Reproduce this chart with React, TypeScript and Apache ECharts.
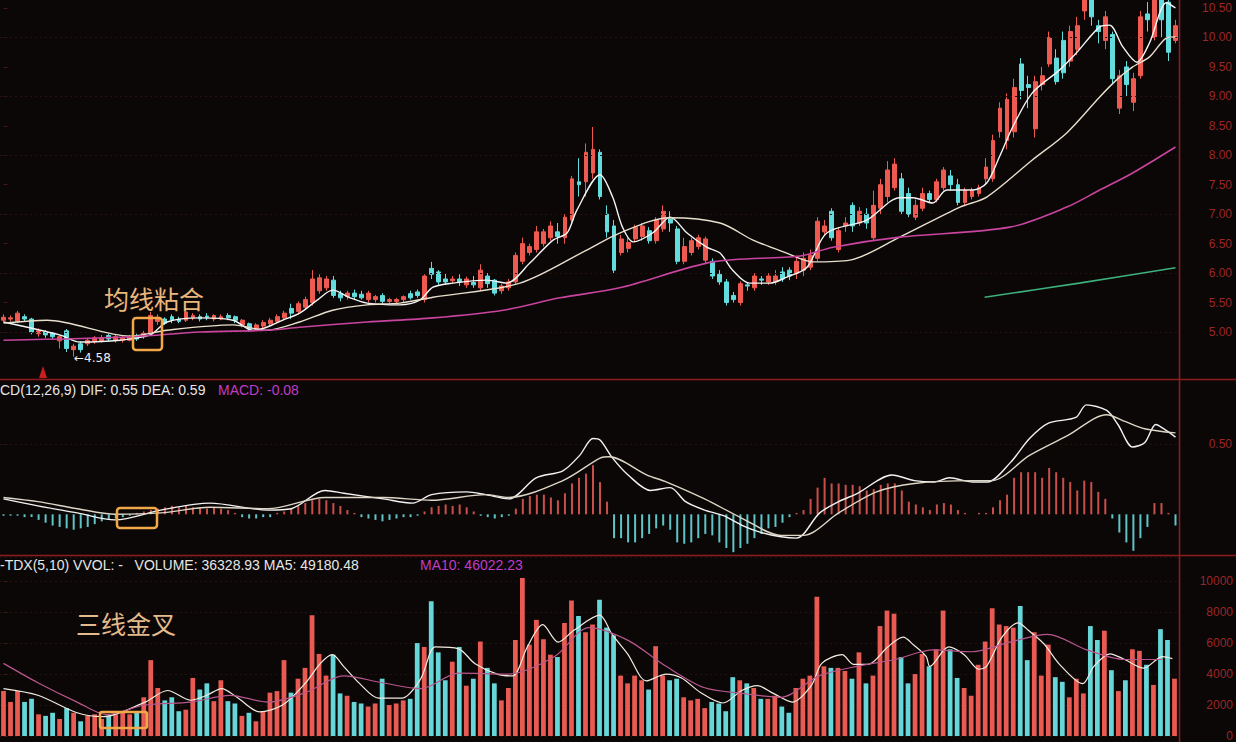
import React, { useEffect, useRef } from "react";
import * as echarts from "echarts";

// [open, close, low, high]
const candles: number[][] = [
  [5.20,5.25,5.17,5.30],[5.22,5.24,5.18,5.28],[5.18,5.32,5.15,5.36],[5.26,5.22,5.18,5.30],[5.22,5.00,4.96,5.24],
  [4.97,5.02,4.92,5.06],[5.00,4.95,4.90,5.03],[4.98,4.92,4.88,5.00],[4.85,4.92,4.72,4.95],[5.02,4.72,4.66,5.05],
  [4.70,4.76,4.58,4.80],[4.80,4.70,4.65,4.84],[4.80,4.86,4.76,4.90],[4.85,4.90,4.80,4.93],[4.84,4.90,4.82,4.95],
  [4.94,4.88,4.84,4.97],[4.86,4.92,4.82,4.95],[4.86,4.90,4.82,4.93],[4.86,4.92,4.84,4.95],[4.93,4.88,4.85,4.97],
  [4.92,4.98,4.88,5.02],[4.98,5.28,4.96,5.34],[5.18,5.25,5.12,5.30],[5.22,5.15,5.12,5.25],[5.26,5.20,5.15,5.30],
  [5.22,5.18,5.15,5.26],[5.20,5.34,5.17,5.40],[5.24,5.28,5.20,5.32],[5.26,5.22,5.18,5.30],[5.27,5.25,5.20,5.32],
  [5.22,5.28,5.18,5.30],[5.22,5.26,5.20,5.30],[5.28,5.24,5.20,5.32],[5.26,5.20,5.15,5.28],[5.12,5.20,5.08,5.22],
  [5.14,5.05,5.00,5.16],[5.05,5.12,5.02,5.15],[5.10,5.16,5.06,5.20],[5.14,5.20,5.10,5.24],[5.18,5.26,5.15,5.30],
  [5.24,5.32,5.20,5.36],[5.40,5.32,5.22,5.48],[5.35,5.48,5.30,5.52],[5.42,5.55,5.38,5.60],[5.50,5.90,5.45,6.05],
  [5.70,5.92,5.65,5.98],[5.75,5.90,5.70,5.95],[5.88,5.62,5.58,5.95],[5.65,5.58,5.52,5.70],[5.60,5.66,5.55,5.70],
  [5.66,5.60,5.56,5.72],[5.64,5.58,5.55,5.70],[5.55,5.66,5.50,5.70],[5.55,5.60,5.50,5.63],[5.62,5.52,5.48,5.66],
  [5.52,5.55,5.48,5.58],[5.52,5.55,5.48,5.58],[5.55,5.60,5.50,5.62],[5.65,5.58,5.55,5.70],[5.68,5.62,5.58,5.72],
  [5.55,5.95,5.50,5.98],[6.08,5.98,5.90,6.19],[6.02,5.85,5.80,6.05],[5.90,5.85,5.80,6.00],[5.87,5.90,5.82,5.95],
  [5.90,5.85,5.78,5.98],[5.80,5.90,5.75,5.94],[5.84,5.80,5.75,5.95],[5.75,6.05,5.70,6.15],[5.95,5.82,5.75,6.00],
  [5.88,5.66,5.62,5.90],[5.70,5.78,5.65,5.82],[5.75,5.85,5.70,5.90],[5.85,6.30,5.80,6.35],[6.20,6.50,6.15,6.60],
  [6.35,6.45,6.30,6.50],[6.40,6.70,6.35,6.80],[6.50,6.70,6.45,6.75],[6.60,6.80,6.55,6.88],[6.70,6.62,6.50,6.85],
  [6.60,6.95,6.50,7.00],[6.90,7.60,6.85,7.65],[7.55,7.50,7.30,7.95],[7.55,8.05,7.30,8.20],[7.70,8.10,7.60,8.48],
  [8.05,7.30,7.25,8.10],[7.00,6.70,6.60,7.15],[6.80,6.05,6.00,6.90],[6.35,6.58,6.30,6.65],[6.42,6.52,6.35,6.60],
  [6.58,6.78,6.52,6.82],[6.62,6.80,6.55,6.85],[6.72,6.55,6.50,6.78],[6.55,6.90,6.50,6.95],[6.75,7.05,6.70,7.15],
  [6.92,6.85,6.70,7.05],[6.75,6.20,6.15,6.80],[6.20,6.45,6.15,6.60],[6.35,6.55,6.30,6.60],[6.45,6.60,6.40,6.65],
  [6.22,6.58,6.15,6.62],[6.20,5.95,5.90,6.25],[5.98,5.85,5.80,6.05],[5.85,5.50,5.45,5.90],[5.62,5.55,5.50,5.68],
  [5.50,5.82,5.45,5.86],[5.80,5.78,5.70,5.85],[5.75,5.95,5.70,6.00],[5.90,5.88,5.80,5.95],[5.85,5.95,5.80,6.00],
  [5.85,5.95,5.80,6.05],[6.02,5.90,5.85,6.10],[6.05,5.95,5.88,6.10],[6.00,6.20,5.90,6.30],[6.05,6.25,5.95,6.35],
  [6.10,6.30,6.05,6.40],[6.25,6.88,6.20,6.95],[6.70,6.80,6.65,6.90],[7.05,6.60,6.55,7.10],[6.40,6.72,6.35,6.78],
  [6.80,6.85,6.70,6.95],[7.15,6.80,6.70,7.20],[6.85,7.05,6.80,7.12],[7.00,6.85,6.75,7.10],[6.60,7.15,6.55,7.40],
  [7.10,7.50,7.00,7.60],[7.30,7.75,7.20,7.90],[7.45,7.85,7.40,7.95],[7.60,7.05,7.00,7.70],[7.35,7.00,6.95,7.45],
  [6.95,7.15,6.90,7.25],[7.10,7.35,7.05,7.45],[7.35,7.25,7.20,7.40],[7.25,7.55,7.20,7.60],[7.45,7.75,7.40,7.80],
  [7.65,7.50,7.40,7.75],[7.50,7.20,7.15,7.60],[7.20,7.40,7.15,7.45],[7.30,7.40,7.25,7.45],[7.35,7.45,7.30,7.50],
  [7.60,7.80,7.50,7.95],[7.60,8.25,7.55,8.35],[8.40,8.80,8.30,8.90],[8.25,8.95,8.10,9.05],[8.40,9.15,8.30,9.30],
  [9.55,9.10,8.95,9.65],[9.20,9.15,8.80,9.35],[8.45,9.25,8.30,9.35],[9.20,9.35,9.10,9.50],[9.55,10.00,9.50,10.10],
  [9.65,9.25,9.20,9.80],[9.95,9.40,9.30,10.10],[9.60,10.10,9.50,10.20],[9.80,10.20,9.70,10.35],[10.45,10.65,10.30,10.80],
  [10.70,10.35,10.20,10.80],[10.20,10.10,9.90,10.30],[9.95,10.35,9.80,10.45],[10.05,9.30,9.20,10.10],[8.80,9.35,8.70,9.45],
  [9.50,9.20,9.00,9.60],[8.90,9.30,8.75,9.40],[9.35,10.35,9.30,10.45],[10.40,10.30,10.10,10.60],[10.00,10.90,9.95,11.00],
  [10.80,10.30,10.00,10.90],[10.60,9.75,9.60,10.70],[9.95,10.20,9.90,10.30],
];

const volumes: number[] = [
  2900,2200,2900,2200,2400,1400,1300,1500,1100,1800,
  1500,950,1300,1400,1100,1300,1400,1500,1400,1600,
  2500,4900,3100,2300,2500,1600,1700,3750,3000,3400,
  2250,3600,2250,2100,1300,1500,950,1600,2800,2900,
  4900,2800,3700,4400,7800,5300,3900,5250,2750,2600,
  2200,2100,1900,2100,3700,2000,2100,2300,2400,6000,
  5750,8700,5400,3600,4800,5750,3250,3700,6100,4400,
  3400,2300,3100,6200,10200,5900,7500,6250,5250,5100,
  7300,8750,7750,6700,7200,8800,7000,6500,3900,3400,
  3900,3600,3000,5800,3900,3600,3700,2500,2300,2400,
  1800,2200,2100,1600,3800,3600,3400,3100,2400,2400,
  2600,1900,1500,3100,3700,3900,9000,4500,4400,4400,
  4200,3700,5400,3400,3900,7100,8100,7900,5100,3400,
  4000,5300,4500,5600,8100,5600,3750,3100,2600,4600,
  6100,8250,7200,7100,7000,8400,4900,6700,3900,5900,
  3800,3500,2500,3700,2750,7100,6200,6800,4250,2900,
  3600,5600,5500,4600,3300,6900,6200,3700,
];

const macdHist: number[] = [
  -0.01,-0.01,-0.01,-0.02,-0.02,
  -0.04,-0.06,-0.08,-0.09,-0.1,-0.11,-0.1,-0.09,
  -0.07,-0.05,-0.04,
  -0.03,-0.02,-0.01,0.01,
  0.02,0.03,0.04,0.05,0.06,0.05,0.06,0.05,0.05,0.04,0.05,0.04,0.03,
  0.01,-0.02,-0.03,-0.03,-0.02,-0.02,0.01,0.02,
  0.04,0.06,0.08,0.1,0.11,0.1,0.08,0.06,
  0.03,0.01,-0.02,-0.03,-0.04,-0.05,-0.04,-0.03,-0.02,-0.02,-0.01,
  0.02,0.05,0.06,0.07,0.06,0.07,0.05,0.02,
  -0.01,-0.02,-0.03,-0.02,-0.01,
  0.04,0.11,0.13,0.14,0.14,0.12,0.10,0.15,0.22,0.26,0.29,0.35,0.23,0.09,
  -0.17,-0.17,-0.2,-0.2,-0.17,-0.14,-0.1,-0.08,-0.11,-0.2,-0.21,-0.2,-0.17,-0.14,-0.15,
  -0.2,-0.24,-0.27,-0.24,-0.21,-0.17,-0.14,-0.1,-0.09,-0.06,-0.02,
  0.01,0.03,0.11,0.19,0.26,0.22,0.22,0.21,0.21,0.2,0.17,0.18,0.21,0.22,0.22,
  0.17,0.09,0.07,0.05,0.03,0.07,0.08,0.07,0.03,0.01,0,0.01,0.01,0.05,0.1,
  0.14,0.26,0.3,0.3,0.3,0.26,0.33,0.3,0.26,0.23,0.17,0.24,0.23,0.16,0.11,
  -0.03,-0.13,-0.2,-0.26,-0.17,-0.09,0.08,0.08,0.01,-0.08,
];

// moving-average readings: [day index, value]
const ma5Pts: number[][] = [
  [0,5.17],[8,4.95],[10.9,4.83],[16.6,4.86],[20.9,4.95],[23.3,5.17],[28,5.24],[32.7,5.2],[35.5,5.03],[37.5,5.08],
  [39.8,5.2],[42.2,5.32],[44.7,5.54],[46.9,5.71],[49.4,5.58],[51.8,5.49],[56.5,5.46],[59.3,5.54],[61.2,5.76],[64,5.83],
  [68.9,5.88],[71.7,5.83],[75,6.17],[78.3,6.56],[80.3,6.68],[81.7,7.07],[85,7.67],[86.8,7.29],[88.2,6.78],[89.7,6.53],
  [92.5,6.68],[95,6.95],[97.4,6.68],[100.2,6.44],[102.1,6.34],[103.9,6.05],[106.3,5.83],[109.2,5.83],[111.6,5.93],[114.5,6.1],
  [117.3,6.68],[123,6.9],[127.7,7.28],[129.6,7.28],[132.4,7.19],[134.4,7.41],[138.1,7.41],[140.1,7.53],[141.9,7.97],[143.8,8.48],
  [146.6,9.06],[150.5,9.45],[152.9,9.74],[156.2,10.18],[157.6,10.21],[159.5,9.84],[161.5,9.58],[163.3,9.91],[165.7,10.59],[167,10.5],
];
const ma10Pts: number[][] = [
  [0,5.15],[6.2,5.2],[18,4.93],[23.3,5.03],[32.7,5.12],[37.5,5.03],[42.2,5.17],[46.9,5.37],[51.8,5.46],[56.5,5.49],
  [61.2,5.59],[73.6,5.83],[83.1,6.39],[87.8,6.68],[94.9,6.94],[102.1,6.85],[106.8,6.56],[111.6,6.34],[115.3,6.19],[120.6,6.22],
  [127.7,6.61],[136.3,7.12],[140.1,7.29],[146.6,7.92],[151.5,8.38],[156.2,8.99],[158.6,9.28],[160.9,9.5],[163.3,9.67],[165.7,9.99],[167,10.01],
];
const ma30Pts: number[][] = [
  [0,4.86],[18.4,4.92],[28,5.0],[37.5,5.03],[42.2,5.08],[51.8,5.17],[61.2,5.24],[71.2,5.37],[79.3,5.58],[87.8,5.75],
  [101.1,6.19],[113.5,6.29],[118.2,6.44],[127.7,6.61],[143.4,6.78],[151.5,7.12],[156.2,7.41],[160.9,7.7],[167,8.14],
];
const ma60Pts: number[][] = [[139.8,5.59],[153.3,5.83],[167,6.09]];

const difPts: number[][] = [
  [0,0.11],[4.9,0.06],[10.5,0.01],[15.9,-0.04],[22.4,0.03],[29.4,0.08],[37.7,0.03],[41,0.04],[45.8,0.17],[48.5,0.15],
  [54.1,0.11],[58.3,0.08],[61,0.14],[66,0.16],[68.7,0.14],[72,0.11],[75.9,0.26],[79.7,0.31],[82.1,0.42],[84,0.54],
  [85,0.53],[86.8,0.4],[89,0.28],[92.2,0.17],[95,0.19],[97.2,0.09],[99.9,0.03],[102.6,-0.01],[105.3,-0.08],[108,-0.13],
  [110.8,-0.16],[113,-0.17],[116.3,0.01],[119,0.09],[121.7,0.15],[126.6,0.28],[129.8,0.24],[132.6,0.23],[134.8,0.26],[138.1,0.23],
  [140.2,0.23],[143.5,0.37],[146.2,0.54],[148.9,0.65],[152.8,0.69],[154.3,0.78],[157.2,0.74],[158.8,0.64],[160.9,0.48],[162.6,0.51],
  [164.2,0.64],[165.3,0.61],[167,0.55],
];
const deaPts: number[][] = [
  [0,0.12],[4.9,0.09],[10.5,0.04],[15.9,0.0],[22.4,0.01],[29.4,0.05],[37.7,0.04],[45.8,0.12],[54.1,0.12],[61,0.1],
  [68.7,0.14],[72,0.12],[79.7,0.24],[85,0.4],[86.3,0.41],[91.7,0.28],[94.5,0.23],[99.9,0.11],[105.3,-0.03],[110.8,-0.15],
  [114,-0.15],[119,0.01],[124.4,0.16],[129.8,0.22],[138.1,0.24],[140.8,0.24],[146.2,0.42],[151.6,0.56],[157.2,0.71],[159.9,0.66],
  [162.6,0.61],[167,0.58],
];

const volMa5Pts: number[][] = [
  [0,3060],[4.9,2630],[10.5,1500],[14.2,1250],[20.2,2190],[23.4,2940],[26.7,2310],[29,2630],[31.1,3060],[33.3,2500],
  [36.5,1560],[39.8,2000],[43.1,3440],[45.2,4690],[46.9,5250],[48.5,4500],[50.8,3380],[53.5,2440],[56.8,2440],[59.5,3690],
  [61.6,5750],[64.9,5630],[67.2,4690],[70.4,4000],[72.6,3880],[74.7,5750],[76.9,7190],[79.1,6060],[81.3,6810],[85,7810],
  [86.8,6560],[89,5310],[91.7,3560],[94.5,4000],[96.7,3750],[99.4,2810],[102.6,2130],[105.3,2940],[107.5,3250],[109.8,2750],
  [112.5,2190],[115.2,3250],[116.7,4690],[119.6,5250],[121.2,4630],[123.3,4630],[126.1,5750],[128.3,6380],[129.8,5880],[131.6,5130],
  [132.1,4500],[134.8,5750],[137,5250],[139.1,4310],[140.2,4500],[142.4,6380],[144.7,7310],[146.2,6810],[148.4,5940],[150.6,4630],
  [153.9,3380],[155.5,4500],[157.8,5310],[159.9,4940],[162.6,4380],[165.3,5130],[166.7,5000],
];
const volMa10Pts: number[][] = [
  [0,4690],[4.9,3440],[10.5,2190],[14.7,1380],[20.2,2000],[26.7,2190],[32.3,2630],[37.7,2190],[43.1,2810],[48.5,3880],
  [54,3440],[59.5,3060],[64.9,4060],[72,4000],[78.6,5130],[83.5,7000],[89,6190],[94.5,4500],[99.9,3130],[105.3,2750],
  [110.8,2500],[116.3,3880],[121.7,4500],[127.1,4940],[132.6,5560],[138.1,5440],[143.5,6060],[148.9,6560],[154.5,5560],[159.9,4940],[165.3,4940],
];

const priceTicks = [5, 5.5, 6, 6.5, 7, 7.5, 8, 8.5, 9, 9.5, 10, 10.5];
const priceGridLevels = [5, 6, 7, 8, 9, 10];
const macdTicks = [0.5];

const days = candles.map((_, i) => String(i + 1));
const N = candles.length;

const UP = "#ef5a50";
const DOWN = "#62dcdc";
const AXIS_RED = "#8e1c1c";
const LABEL_RED = "#9a2626";

export default function App() {
  const ref = useRef<HTMLDivElement>(null);
  useEffect(() => {
    document.body.style.margin = "0";
    document.body.style.background = "#0b0707";
    if (!ref.current) return;
    const chart = echarts.init(ref.current, undefined, { renderer: "svg" });
    const labelFont = { color: LABEL_RED, fontSize: 12, fontFamily: "Liberation Sans", align: "right" as const };
    const faint = { color: "#261111", type: [2, 3] as any, width: 1 };
    const hiddenX = (grid: number) => ({ type: "category", gridIndex: grid, data: days, show: false, boundaryGap: true });
    const valueX = (grid: number) => ({ type: "value", gridIndex: grid, min: -0.5, max: N - 0.5, show: false });
    const lineS = (name: string, xi: number, yi: number, data: number[][], color: string, width = 1.3) => ({
      name, type: "line", xAxisIndex: xi, yAxisIndex: yi, data, smooth: 0.3, symbol: "none",
      lineStyle: { color, width }, silent: true, z: 5,
    });
    const option: any = {
      animation: false,
      backgroundColor: "#0b0707",
      grid: [
        { left: 0, right: 57, top: 0, height: 379 },
        { left: 0, right: 57, top: 381, height: 174 },
        { left: 0, right: 57, top: 557, height: 185 },
      ],
      xAxis: [hiddenX(0), valueX(0), hiddenX(1), valueX(1), hiddenX(2), valueX(2)],
      yAxis: [
        {
          type: "value", gridIndex: 0, position: "right", min: 4.202, max: 10.636,
          splitLine: { show: false }, axisLine: { show: false },
          axisTick: { show: true, customValues: priceTicks, length: 4, lineStyle: { color: "#4a1414" } },
          axisLabel: { ...labelFont, customValues: priceTicks, margin: 53, formatter: (v: number) => v.toFixed(2) },
        },
        {
          type: "value", gridIndex: 1, position: "right", min: -0.29, max: 0.95,
          splitLine: { show: false }, axisLine: { show: false },
          axisTick: { show: true, customValues: macdTicks, length: 4, lineStyle: { color: "#4a1414" } },
          axisLabel: { ...labelFont, customValues: macdTicks, margin: 53, formatter: (v: number) => v.toFixed(2) },
        },
        {
          type: "value", gridIndex: 2, position: "right", min: 0, max: 11560, interval: 2000,
          splitLine: { show: true, lineStyle: faint }, axisLine: { show: false },
          axisTick: { show: true, length: 4, lineStyle: { color: "#4a1414" } },
          axisLabel: { ...labelFont, margin: 55, showMaxLabel: false, formatter: (v: number) => String(v) },
        },
      ],
      series: [
        {
          type: "candlestick", xAxisIndex: 0, yAxisIndex: 0, data: candles, barWidth: "62%", clip: true,
          itemStyle: { color: UP, color0: DOWN, borderColor: UP, borderColor0: DOWN, borderWidth: 1 },
          markLine: {
            silent: true, symbol: ["none", "none"], label: { show: false },
            lineStyle: faint, data: priceGridLevels.map((v) => ({ yAxis: v })),
          },
        },
        lineS("MA5", 1, 0, ma5Pts, "#f4f4f4", 1.4),
        lineS("MA10", 1, 0, ma10Pts, "#e8dfcc", 1.4),
        lineS("MA30", 1, 0, ma30Pts, "#c8449e", 1.6),
        lineS("MA60", 1, 0, ma60Pts, "#3eb07c", 1.6),
        {
          type: "bar", xAxisIndex: 2, yAxisIndex: 1, barWidth: 2,
          data: macdHist.map((v) => ({ value: v, itemStyle: { color: v >= 0 ? "#c8504a" : "#5ec4c6" } })),
          markLine: {
            silent: true, symbol: ["none", "none"], label: { show: false },
            lineStyle: faint, data: macdTicks.map((v) => ({ yAxis: v })),
          },
        },
        lineS("DIF", 3, 1, difPts, "#f2f2f2", 1.4),
        lineS("DEA", 3, 1, deaPts, "#ddd5c6", 1.4),
        {
          type: "bar", xAxisIndex: 4, yAxisIndex: 2, barWidth: "68%",
          data: volumes.map((v, i) => ({
            value: v,
            itemStyle: { color: candles[i][1] >= candles[i][0] ? "#e85a52" : "#66d6d8" },
          })),
        },
        lineS("VMA5", 5, 2, volMa5Pts, "#f2eadf", 1.2),
        lineS("VMA10", 5, 2, volMa10Pts, "#b8578c", 1.2),
      ],
      graphic: [
        { type: "line", shape: { x1: 0, y1: 379.5, x2: 1236, y2: 379.5 }, style: { stroke: AXIS_RED, lineWidth: 1.5 }, z: 50 },
        { type: "line", shape: { x1: 0, y1: 555.5, x2: 1236, y2: 555.5 }, style: { stroke: AXIS_RED, lineWidth: 1.5 }, z: 50 },
        { type: "line", shape: { x1: 1179.5, y1: 0, x2: 1179.5, y2: 742 }, style: { stroke: AXIS_RED, lineWidth: 1.5 }, z: 50 },
        { type: "text", x: 0, y: 390, style: { text: "CD(12,26,9) DIF: 0.55 DEA: 0.59", fill: "#e6e6e6", fontSize: 14, fontFamily: "Liberation Sans", verticalAlign: "middle" }, z: 60 },
        { type: "text", x: 218, y: 390, style: { text: "MACD: -0.08", fill: "#c03cc6", fontSize: 14, fontFamily: "Liberation Sans", verticalAlign: "middle" }, z: 60 },
        { type: "text", x: 0, y: 565, style: { text: "-TDX(5,10) VVOL: -   VOLUME: 36328.93 MA5: 49180.48", fill: "#e6e6e6", fontSize: 14, fontFamily: "Liberation Sans", verticalAlign: "middle" }, z: 60 },
        { type: "text", x: 420, y: 565, style: { text: "MA10: 46022.23", fill: "#c03cc6", fontSize: 14, fontFamily: "Liberation Sans", verticalAlign: "middle" }, z: 60 },
        { type: "text", x: 104, y: 298, style: { text: "均线粘合", fill: "#e9b67c", fontSize: 25, fontFamily: "Noto Sans CJK SC", verticalAlign: "middle" }, z: 60 },
        { type: "text", x: 76, y: 623, style: { text: "三线金叉", fill: "#e2ba8c", fontSize: 25, fontFamily: "Noto Sans CJK SC", verticalAlign: "middle" }, z: 60 },
        { type: "text", x: 74, y: 358, style: { text: "←4.58", fill: "#eeeeee", fontSize: 12, fontFamily: "DejaVu Sans", verticalAlign: "middle" }, z: 60 },
        { type: "rect", shape: { x: 133, y: 318, width: 29, height: 32, r: 3 }, style: { fill: "none", stroke: "#f2a848", lineWidth: 2.5 }, z: 60 },
        { type: "rect", shape: { x: 117, y: 508, width: 40, height: 20, r: 3 }, style: { fill: "none", stroke: "#f2a848", lineWidth: 2.5 }, z: 60 },
        { type: "rect", shape: { x: 100, y: 712, width: 47, height: 16, r: 2 }, style: { fill: "none", stroke: "#f2a848", lineWidth: 2.5 }, z: 60 },
        { type: "polygon", shape: { points: [[39, 378], [43, 366], [47, 378]] }, style: { fill: "#c81e1e" }, z: 60 },
      ],
    };
    chart.setOption(option);
    return () => chart.dispose();
  }, []);
  return <div ref={ref} style={{ width: 1236, height: 742, background: "#0b0707" }} />;
}
